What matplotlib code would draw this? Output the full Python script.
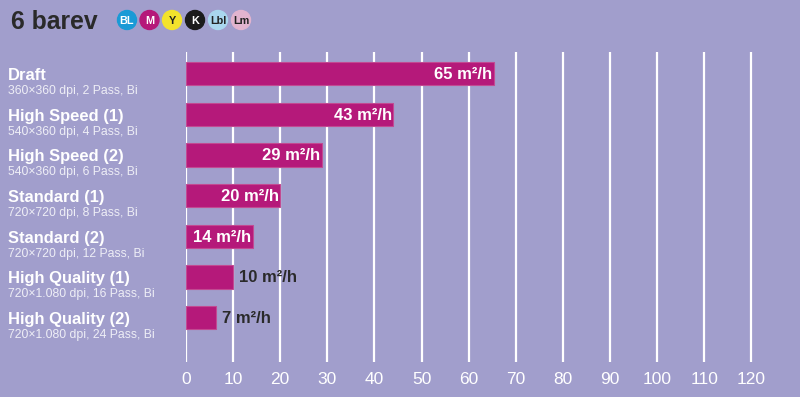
import matplotlib
matplotlib.use("Agg")
import matplotlib.pyplot as plt
from matplotlib.patches import Circle
from matplotlib.transforms import blended_transform_factory

plt.rcParams['font.family'] = ['Liberation Sans', 'DejaVu Sans']

# data
modes = ['Draft', 'High Speed (1)', 'High Speed (2)', 'Standard (1)',
         'Standard (2)', 'High Quality (1)', 'High Quality (2)']
details = ['360×360 dpi, 2 Pass, Bi', '540×360 dpi, 4 Pass, Bi',
           '540×360 dpi, 6 Pass, Bi', '720×720 dpi, 8 Pass, Bi',
           '720×720 dpi, 12 Pass, Bi', '720×1.080 dpi, 16 Pass, Bi',
           '720×1.080 dpi, 24 Pass, Bi']
speeds = [65, 43, 29, 20, 14, 10, 7]
bar_lengths = [65.3, 44.0, 28.8, 20.0, 14.2, 10.0, 6.4]
xticks = list(range(0, 121, 10))

ink_names = ['BL', 'M', 'Y', 'K', 'Lbl', 'Lm']
ink_colors = ['#1a9ad6', '#b5197a', '#f3e22c', '#1b1b1b', '#a9d6ee', '#e2b4cf']
ink_text = ['white', 'white', '#222222', 'white', '#222222', '#222222']

bg = '#a19ecc'
bar_col = '#b5197a'
dark = '#2a2a2a'

fig = plt.figure(figsize=(8, 3.97), dpi=100)
fig.patch.set_facecolor(bg)

ax = fig.add_axes([186/800, 1-362/397, (775-186)/800, (362-52)/397])
ax.set_facecolor(bg)
ax.set_xlim(0, 125)
ax.set_ylim(7.09, -0.53)
ax.set_axisbelow(True)

y = list(range(len(modes)))
ax.barh(y, bar_lengths, height=0.57, color=bar_col, edgecolor='#c24a92',
        linewidth=0.8, zorder=3)

for t in xticks:
    ax.axvline(t, color='white', lw=1.6, zorder=1)

ax.set_xticks(xticks)
ax.set_xticklabels([str(t) for t in xticks])
ax.tick_params(axis='x', length=0, pad=7, labelsize=12.5, labelcolor='white')
ax.set_yticks([])
for s in ax.spines.values():
    s.set_visible(False)

for i in range(len(modes)):
    lab = f'{speeds[i]} m²/h'
    if speeds[i] >= 14:
        ax.text(bar_lengths[i] - 0.3, i + 0.02, lab, ha='right', va='center',
                color='white', fontsize=12, fontweight='bold', zorder=4)
    else:
        ax.text(bar_lengths[i] + 1.2, i + 0.02, lab, ha='left', va='center',
                color=dark, fontsize=12, fontweight='bold', zorder=4)

tr = blended_transform_factory(fig.transFigure, ax.transData)
for i in range(len(modes)):
    ax.text(8/800, i + 0.16, modes[i], transform=tr, ha='left', va='baseline',
            color='white', fontsize=11.9, fontweight='bold', clip_on=False)
    ax.text(8/800, i + 0.50, details[i], transform=tr, ha='left', va='baseline',
            color='#eeeef6', fontsize=8.8, clip_on=False)

# header: title and ink circles
top = fig.add_axes([0, 0, 1, 1], zorder=5)
top.set_xlim(0, 800)
top.set_ylim(397, 0)
top.axis('off')
top.text(11, 29, '6 barev', ha='left', va='baseline', color=dark,
         fontsize=17.8, fontweight='bold')
cx = [127, 149.5, 172, 195, 218, 241]
for i in range(len(ink_names)):
    top.add_patch(Circle((cx[i], 20), 9.5, color=ink_colors[i]))
    top.text(cx[i], 20.5, ink_names[i], ha='center', va='center',
             color=ink_text[i], fontsize=7.8, fontweight='bold')

fig.savefig('out.png', dpi=100, facecolor=bg)
